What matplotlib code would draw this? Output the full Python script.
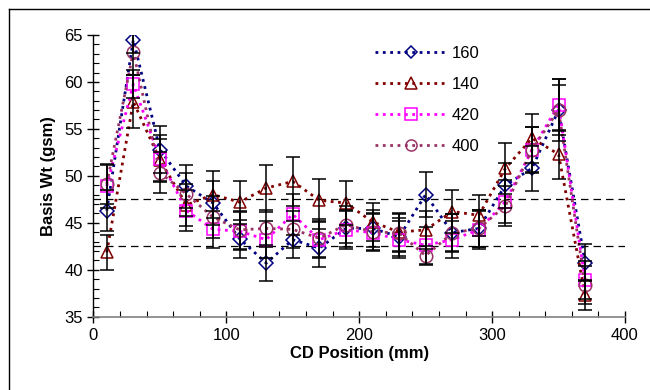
import matplotlib
matplotlib.use("Agg")
import matplotlib.pyplot as plt
from matplotlib.lines import Line2D
from matplotlib.ticker import MultipleLocator

plt.rcParams["font.family"] = ["Liberation Sans", "DejaVu Sans"]

# CD positions (mm)
positions = [10, 30, 50, 70, 90, 110, 130, 150, 170, 190, 210, 230, 250, 270, 290, 310, 330, 350, 370]

# basis weight (gsm) per series
wt_160 = [46.3, 64.5, 52.8, 48.9, 47.1, 43.3, 40.7, 43.2, 42.3, 44.4, 44.4, 43.5, 48.0, 43.95, 44.4, 49.0, 50.8, 57.0, 40.75]
wt_140 = [41.85, 57.9, 51.7, 46.9, 48.0, 47.2, 48.7, 49.4, 47.4, 47.1, 45.1, 44.0, 44.25, 46.2, 45.8, 50.8, 54.0, 52.3, 37.3]
wt_420 = [48.9, 59.75, 51.8, 46.3, 44.3, 44.1, 43.2, 45.9, 43.2, 44.25, 43.95, 43.2, 42.6, 43.2, 44.25, 47.25, 52.75, 57.55, 38.9]
wt_400 = [49.15, 63.2, 50.35, 48.05, 45.6, 44.25, 44.4, 44.3, 43.35, 44.8, 44.05, 43.9, 41.5, 43.9, 44.4, 46.8, 52.8, 57.0, 38.4]

# error bar half-widths (estimated)
err_160 = [2.2, 1.4, 2.5, 2.3, 2.3, 2.0, 1.9, 2.0, 2.0, 2.0, 2.0, 2.0, 2.4, 2.0, 2.0, 2.4, 2.4, 3.3, 2.0]
err_140 = [1.85, 2.8, 2.2, 2.2, 2.5, 2.3, 2.5, 2.6, 2.3, 2.3, 2.0, 2.0, 2.0, 2.3, 2.2, 2.7, 2.6, 2.6, 1.6]
err_420 = [2.3, 1.5, 2.5, 2.2, 2.0, 2.0, 2.0, 2.2, 2.0, 2.0, 2.0, 2.0, 2.0, 2.0, 2.0, 2.3, 2.5, 2.8, 2.0]
err_400 = [2.1, 2.5, 2.2, 2.3, 2.2, 2.0, 2.0, 2.0, 2.0, 2.0, 2.0, 2.0, 1.0, 2.0, 2.0, 2.1, 2.4, 2.7, 2.0]

labels = ["160", "140", "420", "400"]
colors = ["#000080", "#800000", "#FF00FF", "#993366"]
markers = ["D", "^", "s", "o"]
msizes = [7, 9, 9, 9]

limits = [47.5, 42.5]

fig = plt.figure(figsize=(6.5, 3.9), dpi=100)
ax = fig.add_axes([0.1438, 0.188, 0.8177, 0.7223])

series = [(wt_160, err_160), (wt_140, err_140), (wt_420, err_420), (wt_400, err_400)]
handles = []
for (vals, errs), lab, col, mk, ms in zip(series, labels, colors, markers, msizes):
    ax.errorbar(positions, vals, yerr=errs, fmt="none", ecolor="black",
                elinewidth=1.1, capsize=5, capthick=1.1, zorder=4)
    ax.plot(positions, vals, linestyle=":", color=col, linewidth=2,
            marker=mk, markersize=ms, markerfacecolor="none",
            markeredgecolor=col, markeredgewidth=1.1, zorder=3)
    handles.append(Line2D([], [], linestyle=":", color=col, linewidth=2,
                          marker=mk, markersize=ms - 1, markerfacecolor="none",
                          markeredgecolor=col, markeredgewidth=1.1, label=lab))

for lim in limits:
    ax.axhline(lim, color="black", linestyle=(0, (6, 4)), linewidth=0.9, zorder=2)

ax.set_xlim(0, 400)
ax.set_ylim(35, 65)
ax.xaxis.set_major_locator(MultipleLocator(100))
ax.xaxis.set_minor_locator(MultipleLocator(20))
ax.yaxis.set_major_locator(MultipleLocator(5))
ax.yaxis.set_minor_locator(MultipleLocator(1))

ax.spines["top"].set_visible(False)
ax.spines["right"].set_visible(False)
ax.spines["bottom"].set_color("#808080")
ax.spines["bottom"].set_linewidth(1.2)
ax.spines["left"].set_linewidth(1.0)

ax.tick_params(which="major", direction="inout", length=8, width=1, labelsize=12, color="black")
ax.tick_params(which="minor", direction="in", length=4, width=0.8, color="black")
ax.tick_params(axis="x", pad=4)

ax.set_xlabel("CD Position (mm)", fontsize=12, fontweight="bold", labelpad=2)
ax.set_ylabel("Basis Wt (gsm)", fontsize=12, fontweight="bold", labelpad=6)

ax.legend(handles=handles, loc="upper left", bbox_to_anchor=(0.53, 0.962),
          frameon=False, fontsize=12, handlelength=4.3, handletextpad=0.3,
          labelspacing=0.97, borderaxespad=0, borderpad=0)

# outer chart border (only left and top edges fall inside the image)
fig.add_artist(Line2D([0.0143, 0.0143], [0.0, 0.976], color="black", linewidth=1, transform=fig.transFigure))
fig.add_artist(Line2D([0.0143, 1.0], [0.976, 0.976], color="black", linewidth=1, transform=fig.transFigure))

fig.savefig("out.png", dpi=100)
